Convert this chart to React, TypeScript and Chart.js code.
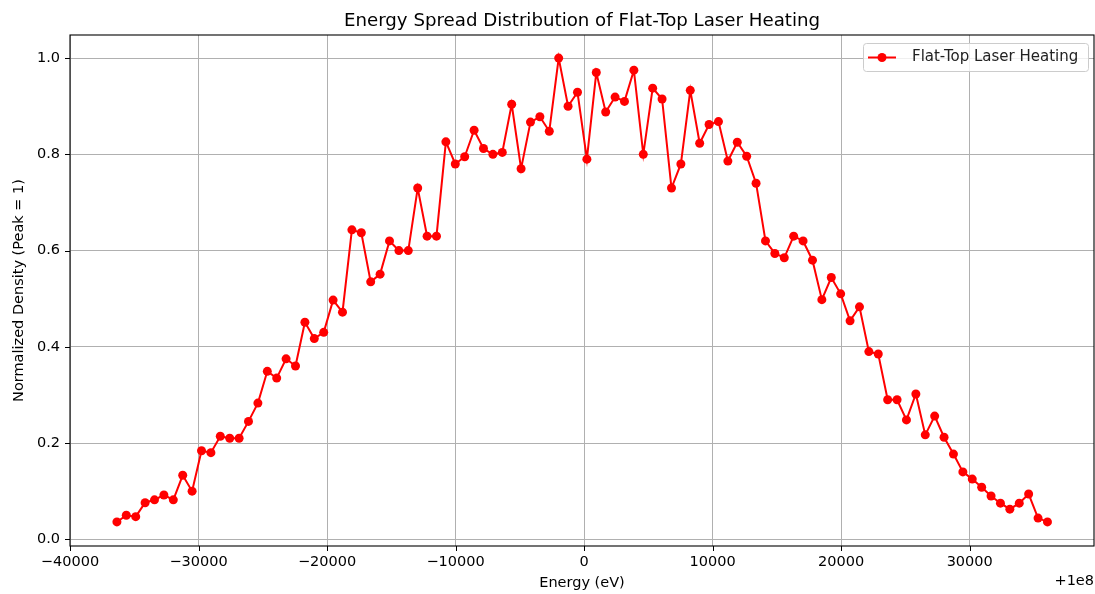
import React, { useEffect, useRef } from "react";
import { Chart, registerables } from "chart.js";

Chart.register(...registerables);

const energyOffsets: number[] = [
  -36350, -35619, -34887, -34156, -33425, -32694, -31962, -31231, -30500, -29768,
  -29037, -28306, -27574, -26843, -26112, -25381, -24649, -23918, -23187, -22455,
  -21724, -20993, -20261, -19530, -18799, -18068, -17336, -16605, -15874, -15142,
  -14411, -13680, -12948, -12217, -11486, -10755, -10023, -9292, -8561, -7829,
  -7098, -6367, -5635, -4904, -4173, -3442, -2710, -1979, -1248, -516,
  215, 946, 1678, 2409, 3140, 3871, 4603, 5334, 6065, 6797,
  7528, 8259, 8991, 9722, 10453, 11184, 11916, 12647, 13378, 14110,
  14841, 15572, 16304, 17035, 17766, 18497, 19229, 19960, 20691, 21423,
  22154, 22885, 23617, 24348, 25079, 25810, 26542, 27273, 28004, 28736,
  29467, 30198, 30930, 31661, 32392, 33123, 33855, 34586, 35317, 36049,
];

const density: number[] = [
  0.036, 0.05, 0.047, 0.076, 0.082, 0.092, 0.082, 0.133, 0.1, 0.184,
  0.18, 0.214, 0.21, 0.21, 0.245, 0.283, 0.349, 0.335, 0.375, 0.36,
  0.451, 0.417, 0.43, 0.497, 0.472, 0.643, 0.637, 0.535, 0.551, 0.62,
  0.6, 0.6, 0.73, 0.63, 0.63, 0.826, 0.78, 0.795, 0.85, 0.812,
  0.8, 0.804, 0.904, 0.77, 0.867, 0.878, 0.848, 1.0, 0.9, 0.929,
  0.79, 0.97, 0.888, 0.919, 0.91, 0.975, 0.8, 0.9375, 0.915, 0.73,
  0.78, 0.933, 0.823, 0.862, 0.868, 0.786, 0.825, 0.796, 0.74, 0.62,
  0.594, 0.585, 0.63, 0.62, 0.58, 0.498, 0.544, 0.51, 0.454, 0.483,
  0.39, 0.385, 0.29, 0.29, 0.248, 0.302, 0.217, 0.256, 0.212, 0.177,
  0.14, 0.125, 0.108, 0.09, 0.075, 0.0625, 0.075, 0.094, 0.044, 0.036,
];

const xTicks: number[] = [-40000, -30000, -20000, -10000, 0, 10000, 20000, 30000];
const yTicks: number[] = [0, 0.2, 0.4, 0.6, 0.8, 1.0];

const chartTitle = "Energy Spread Distribution of Flat-Top Laser Heating";
const seriesLabel = "Flat-Top Laser Heating";
const xLabel = "Energy (eV)";
const yLabel = "Normalized Density (Peak = 1)";
const offsetText = "+1e8";

const FONT = "'DejaVu Sans', sans-serif";
const RED = "#ff0000";
const TICK_SIZE = 14.5;

const framePlugin = {
  id: "mplFrame",
  afterDraw(chart: any) {
    const ctx = chart.ctx as CanvasRenderingContext2D;
    const { left, right, top, bottom } = chart.chartArea;
    const xs = chart.scales.x;
    const ys = chart.scales.y;
    ctx.save();
    // tick marks
    ctx.strokeStyle = "#000";
    ctx.lineWidth = 1;
    xTicks.forEach((v) => {
      const px = Math.round(xs.getPixelForValue(v)) + 0.5;
      ctx.beginPath();
      ctx.moveTo(px, bottom);
      ctx.lineTo(px, bottom + 5);
      ctx.stroke();
    });
    yTicks.forEach((v) => {
      const py = Math.round(ys.getPixelForValue(v)) + 0.5;
      ctx.beginPath();
      ctx.moveTo(left - 5, py);
      ctx.lineTo(left, py);
      ctx.stroke();
    });
    // frame
    ctx.strokeStyle = "#000";
    ctx.lineWidth = 1.1;
    ctx.strokeRect(left, top, right - left, bottom - top);

    // title, centred over the plot area
    ctx.fillStyle = "#000";
    ctx.font = `18.2px ${FONT}`;
    ctx.textAlign = "center";
    ctx.textBaseline = "alphabetic";
    ctx.fillText(chartTitle, (left + right) / 2, 26);

    // offset text
    ctx.font = `${TICK_SIZE}px ${FONT}`;
    ctx.textAlign = "right";
    ctx.textBaseline = "middle";
    ctx.fillText(offsetText, right, 581);

    // legend
    const lx = 863, ly = 43, lw = 225, lh = 28;
    ctx.fillStyle = "rgba(255,255,255,0.8)";
    ctx.strokeStyle = "#cccccc";
    ctx.lineWidth = 1;
    ctx.beginPath();
    (ctx as any).roundRect(lx + 0.5, ly + 0.5, lw, lh, 3);
    ctx.fill();
    ctx.stroke();
    const cy = ly + lh / 2 + 0.5;
    ctx.strokeStyle = RED;
    ctx.lineWidth = 2;
    ctx.beginPath();
    ctx.moveTo(lx + 5, cy);
    ctx.lineTo(lx + 33, cy);
    ctx.stroke();
    ctx.fillStyle = RED;
    ctx.beginPath();
    ctx.arc(lx + 19, cy, 4.5, 0, Math.PI * 2);
    ctx.fill();
    ctx.fillStyle = "#222";
    ctx.font = `15px ${FONT}`;
    ctx.textAlign = "left";
    ctx.textBaseline = "middle";
    ctx.fillText(seriesLabel, lx + 49, cy);
    ctx.restore();
  },
};

export default function App() {
  const canvasRef = useRef<HTMLCanvasElement | null>(null);

  useEffect(() => {
    if (!canvasRef.current) return;
    const points = energyOffsets.map((x, i) => ({ x, y: density[i] }));
    const chart = new Chart(canvasRef.current, {
      type: "line",
      data: {
        datasets: [
          {
            label: seriesLabel,
            data: points,
            borderColor: RED,
            backgroundColor: RED,
            borderWidth: 2,
            pointRadius: 4.5,
            pointHoverRadius: 4.5,
            pointBorderWidth: 0,
            pointBackgroundColor: RED,
            tension: 0,
            fill: false,
          },
        ],
      },
      options: {
        responsive: false,
        animation: false,
        events: [],
        layout: { autoPadding: false, padding: { left: 0, right: 1, top: 35, bottom: 0 } },
        plugins: {
          legend: { display: false },
          tooltip: { enabled: false },
          title: { display: false },
        },
        scales: {
          x: {
            type: "linear",
            min: -40000,
            max: 39670,
            afterBuildTicks: (scale: any) => {
              scale.ticks = xTicks.map((v) => ({ value: v }));
            },
            afterFit: (scale: any) => {
              scale.height = 48;
            },
            ticks: {
              color: "#000",
              font: { family: FONT, size: TICK_SIZE },
              padding: 8,
              maxRotation: 0,
              autoSkip: false,
              callback: (v: any) => {
                const n = Number(v);
                return n < 0 ? "\u2212" + Math.abs(n) : String(n);
              },
            },
            grid: { color: "#b0b0b0", lineWidth: 1, drawTicks: false },
            border: { display: false },
            title: {
              display: true,
              text: xLabel,
              color: "#000",
              font: { family: FONT, size: TICK_SIZE },
              padding: { top: 0, bottom: 2 },
            },
          },
          y: {
            type: "linear",
            min: -0.014,
            max: 1.048,
            afterBuildTicks: (scale: any) => {
              scale.ticks = yTicks.map((v) => ({ value: v }));
            },
            afterFit: (scale: any) => {
              scale.width = 70;
            },
            ticks: {
              color: "#000",
              font: { family: FONT, size: TICK_SIZE },
              padding: 10,
              autoSkip: false,
              callback: (v: any) => Number(v).toFixed(1),
            },
            grid: { color: "#b0b0b0", lineWidth: 1, drawTicks: false },
            border: { display: false },
            title: {
              display: true,
              text: yLabel,
              color: "#000",
              font: { family: FONT, size: TICK_SIZE },
              padding: { top: 11, bottom: 0 },
            },
          },
        },
      },
      plugins: [framePlugin],
    });
    return () => chart.destroy();
  }, []);

  return (
    <div style={{ position: "absolute", left: 0, top: 0, width: 1095, height: 594, background: "#fff" }}>
      <canvas ref={canvasRef} width={1095} height={594} style={{ display: "block" }} />
    </div>
  );
}
